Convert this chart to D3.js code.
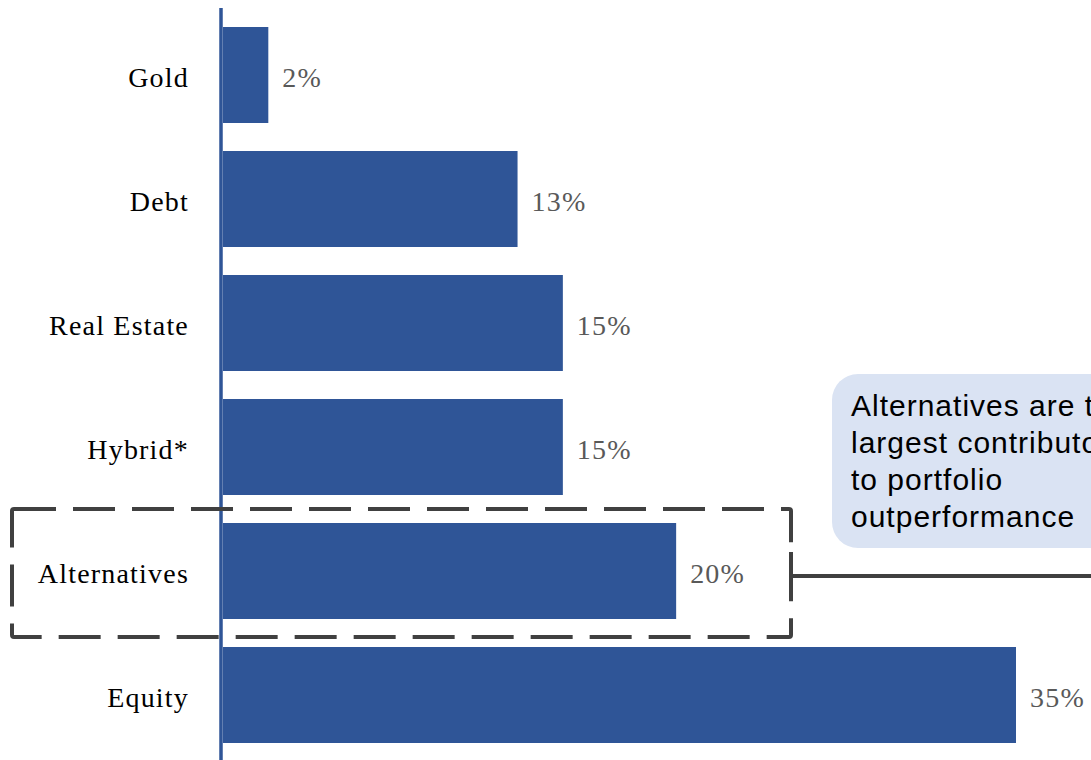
<!DOCTYPE html>
<html>
<head>
<meta charset="utf-8">
<script src="https://cdn.jsdelivr.net/npm/d3@7"></script>
<style>
  html, body { margin: 0; padding: 0; background: #fff; overflow: hidden; }
  svg { display: block; }
</style>
</head>
<body>
<svg id="chart" width="1091" height="760"></svg>
<script>
const categories = ["Gold", "Debt", "Real Estate", "Hybrid*", "Alternatives", "Equity"];
const values = [2, 13, 15, 15, 20, 35];
const valueLabels = ["2%", "13%", "15%", "15%", "20%", "35%"];
const highlighted = "Alternatives";
const calloutLines = ["Alternatives are the", "largest contributor", "to portfolio", "outperformance"];

const svg = d3.select("#chart");
const barColor = "#2f5597";
const darkGray = "#404040";

const y = d3.scaleBand()
  .domain(categories)
  .range([13, 757])
  .paddingInner(28 / 124)
  .paddingOuter(14 / 124);

const x = d3.scaleLinear().domain([0, 35]).range([223, 1016]);

const data = categories.map((c, i) => ({ cat: c, value: values[i], label: valueLabels[i] }));

// callout box
const hy = y(highlighted) + y.bandwidth() / 2;
svg.append("rect")
  .attr("x", 832).attr("y", 374)
  .attr("width", 320).attr("height", 174)
  .attr("rx", 26).attr("ry", 26)
  .attr("fill", "#dae3f3");

svg.append("text")
  .attr("font-family", "'Liberation Sans', Arial, sans-serif")
  .attr("font-size", 30)
  .attr("letter-spacing", "1px")
  .attr("fill", "#000")
  .selectAll("tspan")
  .data(calloutLines)
  .join("tspan")
  .attr("x", 851)
  .attr("y", (d, i) => 416 + i * 37)
  .text(d => d);

// bars
svg.append("g").selectAll("rect")
  .data(data)
  .join("rect")
  .attr("x", x(0))
  .attr("y", d => y(d.cat))
  .attr("width", d => x(d.value) - x(0))
  .attr("height", y.bandwidth())
  .attr("fill", barColor);

// axis line
svg.append("line")
  .attr("x1", 221).attr("x2", 221)
  .attr("y1", 8).attr("y2", 760)
  .attr("stroke", barColor)
  .attr("stroke-width", 3.5);

// category labels
svg.append("g").selectAll("text")
  .data(data)
  .join("text")
  .attr("x", 189)
  .attr("y", d => y(d.cat) + y.bandwidth() / 2 + 12)
  .attr("text-anchor", "end")
  .attr("font-family", "'Liberation Serif', 'Times New Roman', serif")
  .attr("font-size", 28)
  .attr("letter-spacing", "1.2px")
  .attr("fill", "#000")
  .text(d => d.cat);

// value labels
svg.append("g").selectAll("text")
  .data(data)
  .join("text")
  .attr("x", d => x(d.value) + 14)
  .attr("y", d => y(d.cat) + y.bandwidth() / 2 + 12)
  .attr("font-family", "'Liberation Serif', 'Times New Roman', serif")
  .attr("font-size", 28)
  .attr("letter-spacing", "1.2px")
  .attr("fill", "#595959")
  .text(d => d.label);

// dashed highlight box
const bx0 = 12, bx1 = 791, by0 = y(highlighted) - 14, by1 = y(highlighted) + y.bandwidth() + 18;
svg.append("rect")
  .attr("x", bx0).attr("y", by0)
  .attr("width", bx1 - bx0).attr("height", by1 - by0)
  .attr("rx", 2)
  .attr("fill", "none")
  .attr("stroke", darkGray)
  .attr("stroke-width", 4)
  .attr("stroke-dasharray", "42 17");

// connector
svg.append("line")
  .attr("x1", bx1).attr("x2", 1091)
  .attr("y1", hy + 5).attr("y2", hy + 5)
  .attr("stroke", darkGray)
  .attr("stroke-width", 4);
svg.append("line")
  .attr("x1", bx1).attr("x2", bx1)
  .attr("y1", hy - 19).attr("y2", hy + 21)
  .attr("stroke", darkGray)
  .attr("stroke-width", 4);
</script>
</body>
</html>
